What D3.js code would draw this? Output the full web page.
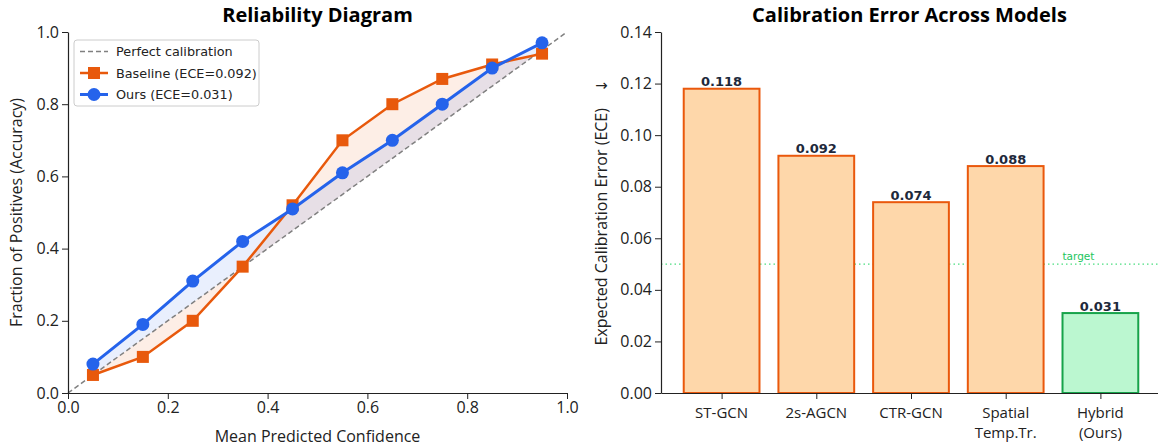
<!DOCTYPE html>
<html>
<head>
<meta charset="utf-8">
<script src="https://cdn.jsdelivr.net/npm/d3@7"></script>
<style>
  body { margin: 0; background: #fff; }
  svg { font-family: "Open Sans", sans-serif; }
  .dv { font-family: "DejaVu Sans", sans-serif; }
</style>
</head>
<body>
<svg id="chart" width="1158" height="448"></svg>
<script>
// reliability diagram data
var binCenters = [0.05, 0.15, 0.25, 0.35, 0.45, 0.55, 0.65, 0.75, 0.85, 0.95];
var baselineAcc = [0.05, 0.10, 0.20, 0.35, 0.52, 0.70, 0.80, 0.87, 0.91, 0.94];
var oursAcc = [0.08, 0.19, 0.31, 0.42, 0.51, 0.61, 0.70, 0.80, 0.90, 0.97];
var reliabilityTicks = [0, 0.2, 0.4, 0.6, 0.8, 1.0];

// calibration error data
var models = ['ST-GCN', '2s-AGCN', 'CTR-GCN', 'Spatial\nTemp.Tr.', 'Hybrid\n(Ours)'];
var eceValues = [0.118, 0.092, 0.074, 0.088, 0.031];
var eceTicks = [0, 0.02, 0.04, 0.06, 0.08, 0.10, 0.12, 0.14];
var targetEce = 0.05;

var svg = d3.select('#chart');
var orange = '#e8590c', blue = '#2563eb', green = '#16a34a';
var tickSize = 16, labelSize = 16, titleSize = 20;

// ---------- left panel ----------
var L = { left: 68, right: 567, top: 32, bottom: 393 };
var x1 = d3.scaleLinear().domain([0, 1]).range([L.left, L.right]);
var y1 = d3.scaleLinear().domain([0, 1]).range([L.bottom, L.top]);
var g1 = svg.append('g');

var pts = binCenters.map(function(c, i) { return { c: c, b: baselineAcc[i], o: oursAcc[i] }; });

var areaBase = d3.area().x(function(d) { return x1(d.c); }).y0(function(d) { return y1(d.c); }).y1(function(d) { return y1(d.b); });
var areaOurs = d3.area().x(function(d) { return x1(d.c); }).y0(function(d) { return y1(d.c); }).y1(function(d) { return y1(d.o); });
g1.append('path').datum(pts).attr('d', areaBase).attr('fill', orange).attr('fill-opacity', 0.1);
g1.append('path').datum(pts).attr('d', areaOurs).attr('fill', blue).attr('fill-opacity', 0.1);

g1.append('line')
  .attr('x1', x1(0)).attr('y1', y1(0)).attr('x2', x1(1)).attr('y2', y1(1))
  .attr('stroke', '#808080').attr('stroke-width', 1.5).attr('stroke-dasharray', '5,3');

var lineBase = d3.line().x(function(d) { return x1(d.c); }).y(function(d) { return y1(d.b); });
var lineOurs = d3.line().x(function(d) { return x1(d.c); }).y(function(d) { return y1(d.o); });
g1.append('path').datum(pts).attr('d', lineBase).attr('fill', 'none').attr('stroke', orange).attr('stroke-width', 2.5);
g1.selectAll('rect.mk').data(pts).enter().append('rect').attr('class', 'mk')
  .attr('x', function(d) { return x1(d.c) - 6; }).attr('y', function(d) { return y1(d.b) - 6; })
  .attr('width', 12).attr('height', 12).attr('fill', orange);
g1.append('path').datum(pts).attr('d', lineOurs).attr('fill', 'none').attr('stroke', blue).attr('stroke-width', 3);
g1.selectAll('circle.mk').data(pts).enter().append('circle').attr('class', 'mk')
  .attr('cx', function(d) { return x1(d.c); }).attr('cy', function(d) { return y1(d.o); })
  .attr('r', 6.5).attr('fill', blue);

var ax1 = g1.append('g').attr('transform', 'translate(0,' + L.bottom + ')')
  .call(d3.axisBottom(x1).tickValues(reliabilityTicks).tickFormat(d3.format('.1f')).tickSizeOuter(0));
var ay1 = g1.append('g').attr('transform', 'translate(' + L.left + ',0)')
  .call(d3.axisLeft(y1).tickValues(reliabilityTicks).tickFormat(d3.format('.1f')).tickSizeOuter(0));
[ax1, ay1].forEach(function(a) {
  a.attr('font-family', null).attr('font-size', tickSize);
  a.selectAll('text').attr('fill', '#222');
  a.selectAll('line').attr('stroke', '#222');
  a.select('.domain').attr('stroke', '#222').attr('stroke-width', 1.2);
});

g1.append('text').attr('x', (L.left + L.right) / 2).attr('y', 22).attr('text-anchor', 'middle')
  .attr('font-size', titleSize).attr('font-weight', 'bold').text('Reliability Diagram');
g1.append('text').attr('x', (L.left + L.right) / 2).attr('y', 442).attr('text-anchor', 'middle')
  .attr('font-size', labelSize).attr('fill', '#222').text('Mean Predicted Confidence');
g1.append('text').attr('transform', 'translate(22,' + ((L.top + L.bottom) / 2) + ') rotate(-90)')
  .attr('text-anchor', 'middle').attr('font-size', labelSize).attr('fill', '#222').text('Fraction of Positives (Accuracy)');

// legend
var lg = g1.append('g').attr('class', 'dv').attr('transform', 'translate(74,40)');
lg.append('rect').attr('width', 185).attr('height', 66).attr('rx', 3)
  .attr('fill', '#fff').attr('fill-opacity', 0.85).attr('stroke', '#ccc');
var legendItems = [
  { label: 'Perfect calibration', kind: 'dash' },
  { label: 'Baseline (ECE=0.092)', kind: 'sq' },
  { label: 'Ours (ECE=0.031)', kind: 'dot' }
];
legendItems.forEach(function(it, i) {
  var yy = 11.5 + i * 21.5;
  if (it.kind === 'dash') {
    lg.append('line').attr('x1', 6).attr('x2', 34).attr('y1', yy).attr('y2', yy)
      .attr('stroke', '#808080').attr('stroke-width', 1.5).attr('stroke-dasharray', '5,3');
  } else if (it.kind === 'sq') {
    lg.append('line').attr('x1', 6).attr('x2', 34).attr('y1', yy).attr('y2', yy).attr('stroke', orange).attr('stroke-width', 2.5);
    lg.append('rect').attr('x', 14).attr('y', yy - 6).attr('width', 12).attr('height', 12).attr('fill', orange);
  } else {
    lg.append('line').attr('x1', 6).attr('x2', 34).attr('y1', yy).attr('y2', yy).attr('stroke', blue).attr('stroke-width', 3);
    lg.append('circle').attr('cx', 20).attr('cy', yy).attr('r', 6.5).attr('fill', blue);
  }
  lg.append('text').attr('x', 42).attr('y', yy + 4.5).attr('font-size', 12.8).attr('fill', '#222').text(it.label);
});

// ---------- right panel ----------
var R = { left: 661, right: 1161, top: 32, bottom: 393 };
var x2 = d3.scaleLinear().domain([-0.64, 4.64]).range([R.left, R.right]);
var y2 = d3.scaleLinear().domain([0, 0.14]).range([R.bottom, R.top]);
var g2 = svg.append('g');

// target line
g2.append('line').attr('x1', R.left).attr('x2', R.right).attr('y1', y2(targetEce)).attr('y2', y2(targetEce))
  .attr('stroke', '#4ade80').attr('stroke-width', 1.2).attr('stroke-dasharray', '1.5,3');
g2.append('text').attr('class', 'dv').attr('x', x2(3.6)).attr('y', y2(targetEce) - 4).attr('font-size', 10.5)
  .attr('fill', '#22c55e').text('target');

g2.selectAll('rect.bar').data(eceValues).enter().append('rect').attr('class', 'bar')
  .attr('x', function(d, i) { return x2(i - 0.4); })
  .attr('y', function(d) { return y2(d); })
  .attr('width', x2(0.4) - x2(-0.4))
  .attr('height', function(d) { return y2(0) - y2(d); })
  .attr('fill', function(d, i) { return i === 4 ? '#bbf7d0' : '#fed7aa'; })
  .attr('stroke', function(d, i) { return i === 4 ? green : '#ea580c'; })
  .attr('stroke-width', 2);

g2.selectAll('text.val').data(eceValues).enter().append('text').attr('class', 'val dv')
  .attr('x', function(d, i) { return x2(i); }).attr('y', function(d) { return y2(d) - 2.5; })
  .attr('text-anchor', 'middle').attr('font-size', 13).attr('font-weight', 'bold').attr('fill', '#1e293b')
  .text(function(d) { return d3.format('.3f')(d); });

var ay2 = g2.append('g').attr('transform', 'translate(' + R.left + ',0)')
  .call(d3.axisLeft(y2).tickValues(eceTicks).tickFormat(d3.format('.2f')).tickSizeOuter(0));
var ax2 = g2.append('g').attr('transform', 'translate(0,' + R.bottom + ')')
  .call(d3.axisBottom(x2).tickValues(d3.range(models.length)).tickFormat('').tickSizeOuter(0));
[ax2, ay2].forEach(function(a) {
  a.attr('font-family', null).attr('font-size', tickSize);
  a.selectAll('text').attr('fill', '#222');
  a.selectAll('line').attr('stroke', '#222');
  a.select('.domain').attr('stroke', '#222').attr('stroke-width', 1.2);
});
models.forEach(function(m, i) {
  m.split('\n').forEach(function(line, j) {
    g2.append('text').attr('x', x2(i)).attr('y', R.bottom + 25 + j * 19.5).attr('text-anchor', 'middle')
      .attr('font-size', 15).attr('fill', '#222').text(line);
  });
});

g2.append('text').attr('x', (R.left + 1158) / 2).attr('y', 22).attr('text-anchor', 'middle')
  .attr('font-size', titleSize).attr('font-weight', 'bold').text('Calibration Error Across Models');
var yl = g2.append('text').attr('transform', 'translate(607,' + ((R.top + R.bottom) / 2) + ') rotate(-90)')
  .attr('text-anchor', 'middle').attr('font-size', labelSize).attr('fill', '#222');
yl.append('tspan').text('Expected Calibration Error (ECE)\u2002\u2002');
yl.append('tspan').attr('class', 'dv').attr('font-size', 15).text('\u2193');
</script>
</body>
</html>
